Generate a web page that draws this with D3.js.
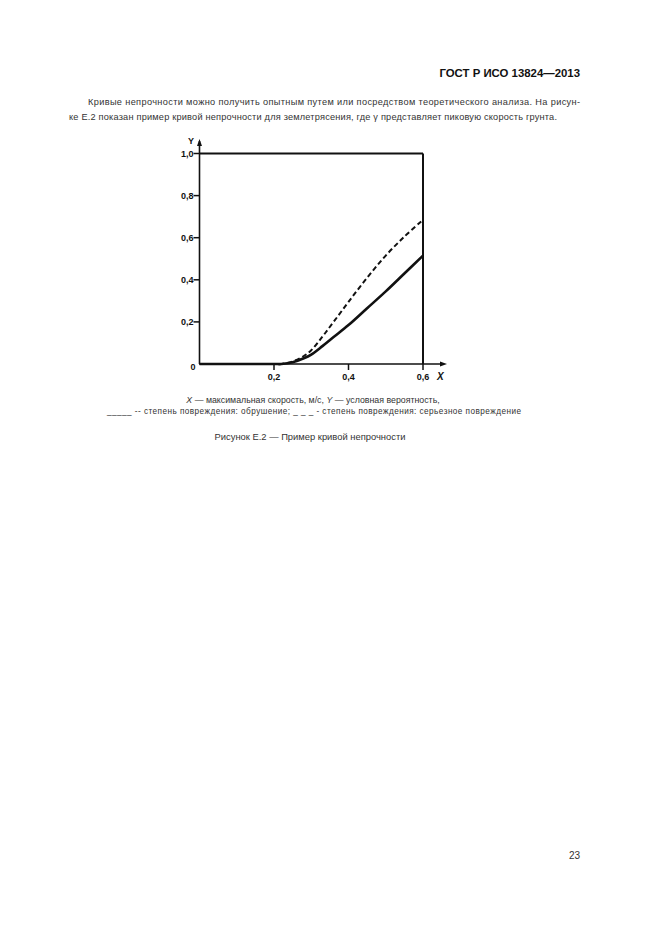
<!DOCTYPE html>
<html><head><meta charset="utf-8">
<script src="https://cdn.jsdelivr.net/npm/d3@7/dist/d3.min.js"></script>
<style>body{margin:0;background:#fff}svg{display:block}text{font-family:"Liberation Sans",Arial,sans-serif;fill:#222}</style>
</head><body><svg id="c" width="661" height="936"></svg>
<script>
const xValues = [0, 0.2, 0.22, 0.25, 0.28, 0.30, 0.33, 0.36, 0.40, 0.45, 0.50, 0.55, 0.60];
const collapse = [0, 0, 0, 0.008, 0.027, 0.045, 0.085, 0.128, 0.185, 0.265, 0.345, 0.43, 0.515];
const severe   = [0, 0, 0, 0.012, 0.038, 0.065, 0.13, 0.2, 0.295, 0.41, 0.515, 0.605, 0.685];
const xTicks = [0.2, 0.4, 0.6];
const xTickLabels = ["0,2", "0,4", "0,6"];
const yTicks = [0.2, 0.4, 0.6, 0.8, 1.0];
const yTickLabels = ["0,2", "0,4", "0,6", "0,8", "1,0"];

const svg = d3.select("#c");
const x = d3.scaleLinear().domain([0, 0.6]).range([199.5, 423]);
const y = d3.scaleLinear().domain([0, 1]).range([364, 153.5]);

// page texts
svg.append("text").attr("x", 580).attr("y", 77).attr("text-anchor", "end")
  .attr("font-size", 11.4).attr("font-weight", "bold").style("fill", "#111").text("ГОСТ Р ИСО 13824—2013");
svg.append("text").attr("x", 88).attr("y", 105).attr("font-size", 9.2).style("fill", "#333")
  .attr("textLength", 492).attr("lengthAdjust", "spacing")
  .text("Кривые непрочности можно получить опытным путем или посредством теоретического анализа. На рисун-");
svg.append("text").attr("x", 69).attr("y", 120).attr("font-size", 9.2).style("fill", "#333")
  .attr("textLength", 488).attr("lengthAdjust", "spacing")
  .text("ке Е.2 показан пример кривой непрочности для землетрясения, где γ представляет пиковую скорость грунта.");

// frame
const g = svg.append("g");
g.append("line").attr("x1", x(0)).attr("x2", x(0.6)).attr("y1", y(1)).attr("y2", y(1))
  .attr("stroke", "#111").attr("stroke-width", 2);
g.append("line").attr("x1", x(0.6)).attr("x2", x(0.6)).attr("y1", y(1)).attr("y2", y(0))
  .attr("stroke", "#111").attr("stroke-width", 2);
// axes with arrows
g.append("line").attr("x1", x(0)).attr("x2", x(0)).attr("y1", y(0)).attr("y2", 141)
  .attr("stroke", "#111").attr("stroke-width", 1.6);
g.append("path").attr("d", `M${x(0)-2.5},146 L${x(0)},139 L${x(0)+2.5},146 Z`).attr("fill", "#111");
g.append("line").attr("x1", x(0)).attr("x2", 444).attr("y1", y(0)).attr("y2", y(0))
  .attr("stroke", "#111").attr("stroke-width", 1.6);
g.append("path").attr("d", `M440,${y(0)-2.5} L447,${y(0)} L440,${y(0)+2.5} Z`).attr("fill", "#111");

// y ticks
yTicks.forEach((t, i) => {
  g.append("line").attr("x1", x(0) - 6).attr("x2", x(0)).attr("y1", y(t)).attr("y2", y(t))
    .attr("stroke", "#111").attr("stroke-width", 1.5);
  g.append("text").attr("x", x(0) - 6).attr("y", y(t) + 3.5).attr("text-anchor", "end").style("fill", "#111")
    .attr("font-size", 9).attr("font-weight", "bold").text(yTickLabels[i]);
});
g.append("text").attr("x", x(0) - 4).attr("y", y(0) + 6).attr("text-anchor", "end").style("fill", "#111")
  .attr("font-size", 9).attr("font-weight", "bold").text("0");
xTicks.forEach((t, i) => {
  g.append("line").attr("x1", x(t)).attr("x2", x(t)).attr("y1", y(0)).attr("y2", y(0) + 6)
    .attr("stroke", "#111").attr("stroke-width", 1.5);
  g.append("text").attr("x", x(t)).attr("y", y(0) + 16).attr("text-anchor", "middle").style("fill", "#111")
    .attr("font-size", 9).attr("font-weight", "bold").text(xTickLabels[i]);
});
g.append("text").attr("x", 188).attr("y", 144).attr("font-size", 9).attr("font-weight", "bold").style("fill", "#111").text("Y");
g.append("text").attr("x", 437).attr("y", y(0) + 16).attr("font-size", 10).attr("font-weight", "bold").style("fill", "#111")
  .attr("font-style", "italic").text("X");

// curves
const line = d3.line().x(d => x(d[0])).y(d => y(d[1])).curve(d3.curveCatmullRom.alpha(0.5));
g.append("path").datum(xValues.map((v, i) => [v, severe[i]])).attr("d", line)
  .attr("fill", "none").attr("stroke", "#111").attr("stroke-width", 2).attr("stroke-dasharray", "5,3");
g.append("path").datum(xValues.map((v, i) => [v, collapse[i]])).attr("d", line)
  .attr("fill", "none").attr("stroke", "#111").attr("stroke-width", 2.6);

// captions
const c1 = svg.append("text").attr("x", 313).attr("y", 403).attr("text-anchor", "middle").attr("font-size", 8.8).style("fill", "#333");
c1.append("tspan").attr("font-style", "italic").text("X");
c1.append("tspan").text(" — максимальная скорость, м/с, ");
c1.append("tspan").attr("font-style", "italic").text("Y");
c1.append("tspan").text(" — условная вероятность,");
svg.append("text").attr("x", 107).attr("y", 414).attr("font-size", 8.2).style("fill", "#333")
  .attr("textLength", 414).attr("lengthAdjust", "spacing")
  .text("_____ -- степень повреждения: обрушение; _ _ _ -  степень повреждения: серьезное повреждение");
svg.append("text").attr("x", 310).attr("y", 440).attr("text-anchor", "middle").attr("font-size", 9.4).style("fill", "#333")
  .text("Рисунок Е.2 — Пример кривой непрочности");
svg.append("text").attr("x", 580).attr("y", 859).attr("text-anchor", "end").attr("font-size", 10).style("fill", "#333").text("23");
</script></body></html>
